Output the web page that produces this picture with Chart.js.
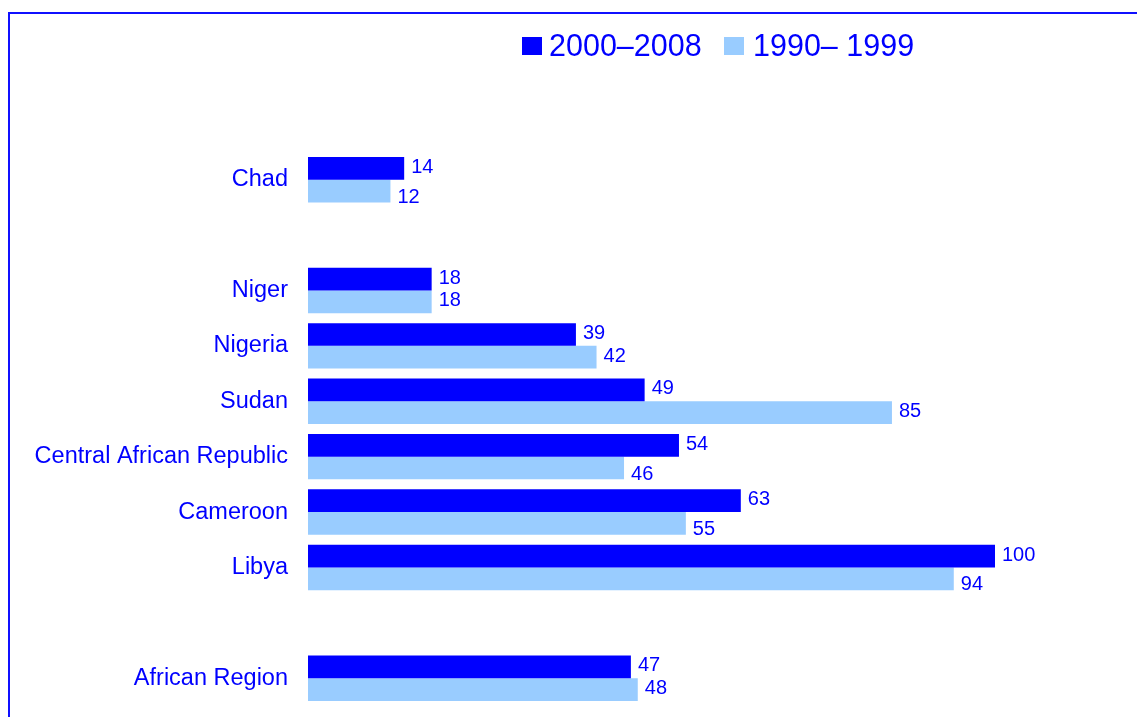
<!DOCTYPE html>
<html>
<head>
<meta charset="utf-8">
<title>Chad, Niger, Nigeria, Sudan, CAR, Cameroon, Libya</title>
<script src="https://cdn.jsdelivr.net/npm/chart.js@4.4.0/dist/chart.umd.min.js"></script>
<style>
  html, body { margin: 0; padding: 0; background: #fff; overflow: hidden; }
  #wrap { position: relative; width: 1137px; height: 717px; overflow: hidden; }
  #frame {
    position: absolute; left: 8px; top: 12px; width: 1200px; height: 800px;
    border-left: 2px solid #1010ff; border-top: 2px solid #1010ff;
  }
  #chart { position: absolute; left: 0; top: 0; }
  .leg { position: absolute; font-family: Arial, "Liberation Sans", sans-serif; font-size: 30.5px; line-height: 30px; color: #0000ff; white-space: pre; }
  .box { position: absolute; width: 20px; height: 18px; }
</style>
</head>
<body>
<div id="wrap">
  <div id="frame"></div>
  <!-- el lienzo es mas alto que la ventana: la escala Y reserva margen abajo -->
  <canvas id="chart" width="1137" height="740"></canvas>
  <div class="box" style="left:522px; top:37px; background:#0000ff"></div>
  <div class="leg" style="left:549px; top:30px">2000–2008</div>
  <div class="box" style="left:724px; top:37px; background:#99ccff"></div>
  <div class="leg" style="left:753px; top:30px">1990– 1999</div>
</div>
<script>
// categorias (las vacias dejan el hueco entre grupos)
const paises = ['Chad', '', 'Niger', 'Nigeria', 'Sudan', 'Central African Republic', 'Cameroon', 'Libya', '', 'African Region'];
const valores2000 = [14, null, 18, 39, 49, 54, 63, 100, null, 47];
const valores1990 = [12, null, 18, 42, 85, 46, 55, 94, null, 48];
const series = ['2000–2008', '1990– 1999'];

const AZUL = '#0000ff';
const CELESTE = '#99ccff';
const FUENTE = 'Arial, "Liberation Sans", sans-serif';

// etiquetas de valor a la derecha de cada barra
const etiquetasValor = {
  id: 'etiquetasValor',
  afterDatasetsDraw(chart) {
    const ctx = chart.ctx;
    ctx.save();
    ctx.font = '20px ' + FUENTE;
    ctx.fillStyle = AZUL;
    ctx.textAlign = 'left';
    ctx.textBaseline = 'middle';
    chart.data.datasets.forEach(function (ds, i) {
      const meta = chart.getDatasetMeta(i);
      meta.data.forEach(function (bar, j) {
        const v = ds.data[j];
        if (v === null || v === undefined) return;
        let dy = -1;
        // si la barra clara es mas corta que la oscura, su etiqueta baja un poco
        if (i === 1 && v < valores2000[j]) dy = 6;
        ctx.fillText(String(v), bar.x + 7, bar.y + dy);
      });
    });
    ctx.restore();
  }
};

new Chart(document.getElementById('chart'), {
  type: 'bar',
  data: {
    labels: paises,
    datasets: [
      { label: series[0], data: valores2000, backgroundColor: AZUL, categoryPercentage: 0.82, barPercentage: 1 },
      { label: series[1], data: valores1990, backgroundColor: CELESTE, categoryPercentage: 0.82, barPercentage: 1 }
    ]
  },
  options: {
    indexAxis: 'y',
    responsive: false,
    animation: false,
    layout: { padding: { left: 0, right: 142, top: 152, bottom: 11 } },
    plugins: { legend: { display: false }, tooltip: { enabled: false } },
    scales: {
      x: { min: 0, max: 100, display: false },
      y: {
        grid: { display: false, drawTicks: false },
        border: { display: false },
        ticks: { color: AZUL, font: { family: FUENTE, size: 23.5 }, padding: 20, autoSkip: false },
        afterFit: function (scale) { scale.width = 308; }
      }
    }
  },
  plugins: [etiquetasValor]
});
</script>
</body>
</html>
